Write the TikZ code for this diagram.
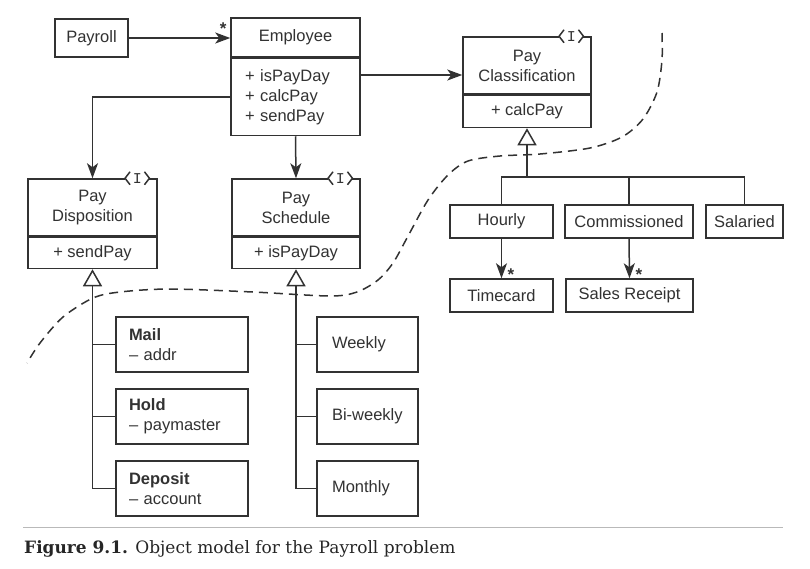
\documentclass[tikz,border=0pt]{standalone}
\usepackage{fontspec}
\setsansfont{Liberation Sans}
\setmonofont{Liberation Mono}
\newfontfamily\capfont{DejaVu Serif}
\usepackage{tikz}
\usetikzlibrary{arrows.meta,positioning}
\definecolor{umlgray}{RGB}{50,50,50}
\definecolor{rulegray}{RGB}{185,185,185}

\begin{document}
\begin{tikzpicture}
	[x=1pt,y=-1pt,
	 umlline/.style={draw=umlgray,line width=1.5pt},
	 box/.style={umlline,fill=white,inner sep=0pt,align=center,text=umlgray,
	   font=\sffamily\fontsize{16.5}{20}\selectfont},
	 smallbox/.style={box,minimum height=33pt},
	 subbox/.style={box,align=left,minimum height=55pt},
	 ifacebox/.style={fill=white,inner sep=0pt,minimum width=24pt,minimum height=13pt,
	   text=umlgray,font=\ttfamily\fontsize{15}{15}\selectfont},
	 nav/.style={umlline,-{Stealth[length=15pt,width=11pt,inset=4pt]}},
	 gen/.style={umlline,-{Triangle[open,fill=white,length=17pt,width=19pt]}},
	 mult/.style={anchor=base,inner sep=0pt,text=umlgray,font=\sffamily\bfseries\fontsize{17}{17}\selectfont},
	 boundary/.style={umlline,line width=1.5pt,dash pattern=on 9pt off 6pt}]
\useasboundingbox (0,0) rectangle (810,568);
% boundary between the abstract part and the details
\draw[boundary] plot[smooth,tension=0.5] coordinates {(662,33) (662,60) (657,92) (643,119)
  (622,137) (590,148) (540,154) (500,156) (468,161) (448,175) (428,200) (407,238)
  (393,263) (378,280) (357,292) (330,296) (253,292) (170,289) (120,292) (93,298)
  (63,317) (40,343) (27,363)};
% classes
\node[box,minimum width=73pt,minimum height=38pt] (payroll) at (91.5,38) {Payroll};
\node[box,minimum width=129pt,minimum height=39pt] (emp) at (295.5,37.5) {Employee};
\node[box,below=0pt of emp,align=left,text width=101pt,inner xsep=14pt,minimum height=77pt]
  (empops) {+ isPayDay\\+ calcPay\\+ sendPay};
\node[box,minimum width=128pt,minimum height=57pt] (clshead) at (527,65.5) {Pay\\Classification};
\node[box,below=0pt of clshead,minimum width=128pt,minimum height=32pt] (clsops) {+ calcPay};
\node[box,minimum width=129pt,minimum height=57pt] (disp) at (92.5,207.5) {Pay\\Disposition};
\node[box,below=0pt of disp,minimum width=129pt,minimum height=31pt] (dispops) {+ sendPay};
\node[box,minimum width=128pt,minimum height=57pt] (sched) at (296,207.5) {Pay\\Schedule};
\node[box,below=0pt of sched,minimum width=128pt,minimum height=31pt] (schedops) {+ isPayDay};
\node[smallbox,minimum width=103pt] (hourly) at (501.5,221.5) {Hourly};
\node[smallbox,minimum width=128pt] (commissioned) at (629,221.5) {Commissioned};
\node[smallbox,minimum width=77pt] (salaried) at (744.5,221.5) {Salaried};
\node[smallbox,minimum width=103pt] (timecard) at (501.5,295.5) {Timecard};
\node[smallbox,minimum width=127pt] (salesrcpt) at (629.5,295.5) {Sales Receipt};
\foreach \n/\y/\txt in {mail/344.5/{\textbf{Mail}\\– addr},
    hold/416.5/{\textbf{Hold}\\– paymaster},
    deposit/488.5/{\textbf{Deposit}\\– account}}
  \node[subbox,text width=106pt,inner xsep=13pt] (\n) at (182,\y) {\txt};
\foreach \n/\y/\txt in {weekly/344.5/Weekly,biweekly/416.5/Bi-weekly,monthly/488.5/Monthly}
  \node[subbox,text width=71pt,inner xsep=15pt] (\n) at (367.5,\y) {\txt};
% interface marks
\foreach \n in {clshead,disp,sched} {
  \node[ifacebox] (\n-i) at ([xshift=-20.5pt]\n.north east) {I};
  \draw[umlline] ([xshift=5pt,yshift=6.5pt]\n-i.west) -- (\n-i.west) -- ([xshift=5pt,yshift=-6.5pt]\n-i.west);
  \draw[umlline] ([xshift=-5pt,yshift=6.5pt]\n-i.east) -- (\n-i.east) -- ([xshift=-5pt,yshift=-6.5pt]\n-i.east);
}
% associations
\coordinate (clsline) at (410,75);
\draw[nav] (payroll.east) -- (payroll.east -| emp.west);
\draw[nav] (empops.west) -| (disp.north);
\draw[nav] (empops.south) -- (sched.north);
\draw[nav] (empops.east |- clsline) -- (clshead.west |- clsline);
\draw[nav] (hourly.south) -- (timecard.north);
\draw[nav] (commissioned.south) -- (salesrcpt.north);
\node[mult] (emp-m) at ([xshift=-7pt,yshift=3pt]emp.west) {*};
\node[mult] (timecard-m) at ([xshift=9.5pt,yshift=-2.5pt]timecard.north) {*};
\node[mult] (salesrcpt-m) at ([xshift=9.5pt,yshift=-2.5pt]salesrcpt.north) {*};
% generalizations
\coordinate (clsbus) at (527,177);
\draw[gen] (clsbus) -- (clsops.south);
\draw[umlline] (hourly.north) |- (clsbus) -| (salaried.north);
\draw[umlline] (commissioned.north) -- (commissioned.north |- clsbus);
\draw[gen] (deposit.west) -| (dispops.south);
\draw[gen] (monthly.west) -| (schedops.south);
\foreach \n in {mail,hold}
  \draw[umlline] (\n.west) -- (\n.west -| dispops.south);
\foreach \n in {weekly,biweekly}
  \draw[umlline] (\n.west) -- (\n.west -| schedops.south);
% caption
\draw[rulegray,line width=1pt] (23,527) -- (783,527);
\node[anchor=base west,inner sep=0pt,text=black!85,font=\capfont\fontsize{17}{20}\selectfont]
  (caption) at (24,553) {\textbf{Figure 9.1.} Object model for the Payroll problem};
\end{tikzpicture}
\end{document}
